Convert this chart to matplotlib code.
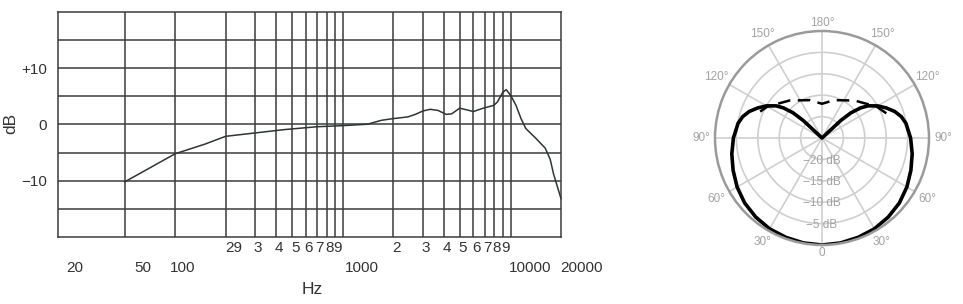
import numpy as np
import matplotlib
matplotlib.use("Agg")
import matplotlib.pyplot as plt
from matplotlib.transforms import blended_transform_factory

plt.rcParams['font.family'] = ['Liberation Sans', 'DejaVu Sans']

# ---------------- data ----------------
freq_hz = [50, 100, 150, 200, 300, 450, 700, 1000, 1400, 1700, 2000, 2440, 2680, 3000,
           3320, 3690, 4140, 4460, 4970, 5490, 6000, 6870, 7950, 8350, 8980, 9430,
           10060, 10780, 11550, 12320, 14100, 16100, 17250, 18050, 19600, 20000]
resp_db = [-10.2, -5.2, -3.5, -2.1, -1.5, -0.9, -0.4, -0.2, 0.05, 0.75, 1.05, 1.35, 1.75, 2.4,
           2.7, 2.5, 1.8, 1.9, 2.9, 2.6, 2.3, 2.9, 3.4, 4.0, 5.7, 6.2,
           5.1, 3.4, 1.05, -0.7, -2.4, -4.2, -6.2, -8.8, -12.3, -13.2]

y_tick_vals = [10, 0, -10]
y_tick_labels = ['+10', '0', '\u221210']
x_grid_freqs = [50, 100, 200, 300, 400, 500, 600, 700, 800, 900, 1000,
                2000, 3000, 4000, 5000, 6000, 7000, 8000, 9000, 10000]
minor_row_freqs = [200, 300, 400, 500, 600, 700, 800, 900,
                   2000, 3000, 4000, 5000, 6000, 7000, 8000, 9000]
minor_row_labels = ['29', '3', '4', '5', '6', '7', '8', '9',
                    '2', '3', '4', '5', '6', '7', '8', '9']
major_row_freqs = [20, 50, 100, 1000, 10000, 20000]
major_row_labels = ['20', '50', '100', '1000', '10000', '20000']

# polar pattern (angle in degrees from front, one half; the pattern is symmetric)
solid_angles = [0, 10, 20, 30, 40, 50, 60, 70, 80, 90, 100, 105, 110, 115, 120,
                125, 128, 131, 133, 135]
solid_db = [0, -0.1, -0.3, -0.5, -0.9, -1.4, -2.1, -2.9, -3.6, -4.3, -5.1, -5.8,
            -6.9, -8.4, -10.0, -11.9, -13.6, -16.0, -19.0, -25.0]
dashed_angles = [111, 120, 139, 162, 180]
dashed_db = [-8.9, -10.3, -13.4, -15.7, -17.0]
ring_db = [-20, -15, -10, -5]
ring_labels = ['\u221220 dB', '\u221215 dB', '\u221210 dB', '\u22125 dB']
spoke_deg = [0, 30, 60, 90, 120, 150, 180, 210, 240, 270, 300, 330]
spoke_labels = ['0', '30\u00b0', '60\u00b0', '90\u00b0', '120\u00b0', '150\u00b0', '180\u00b0',
                '150\u00b0', '120\u00b0', '90\u00b0', '60\u00b0', '30\u00b0']

# ---------------- figure ----------------
W, H = 963, 304
fig = plt.figure(figsize=(W / 100, H / 100), dpi=100)

grid_c = '#3c3c3c'
text_c = '#333333'

ax = fig.add_axes([58 / W, 1 - 237 / H, 503 / W, 225 / H])
ax.set_xscale('log')
ax.set_xlim(20, 20000)
ax.set_ylim(-20, 20)
ax.plot(freq_hz, resp_db, color='#2e3532', lw=1.1, clip_on=False)
for f in x_grid_freqs:
    ax.axvline(f, color=grid_c, lw=1.1, zorder=0)
for v in np.arange(-15, 20, 5):
    ax.axhline(v, color=grid_c, lw=1.1, zorder=0)
for s in ax.spines.values():
    s.set_color(grid_c)
    s.set_linewidth(1.1)
ax.set_xticks([])
ax.set_xticks([], minor=True)
ax.set_yticks(y_tick_vals)
ax.set_yticklabels(y_tick_labels)
ax.tick_params(axis='y', length=0, pad=8, labelsize=11, labelcolor=text_c)

tr = blended_transform_factory(ax.transData, ax.transAxes)
for f, lab in zip(minor_row_freqs, minor_row_labels):
    dx = 6 if lab == '29' else 2
    ax.annotate(lab, (f, -0.047), xycoords=tr, xytext=(dx, 0), textcoords='offset points',
                ha='center', va='center', fontsize=11, color=text_c)
major_dx = [12, 13, 5, 14, 14, 15]
for f, lab, dx in zip(major_row_freqs, major_row_labels, major_dx):
    ax.annotate(lab, (f, -0.14), xycoords=tr, xytext=(dx, 0), textcoords='offset points',
                ha='center', va='center', fontsize=11, color=text_c)

fig.text(312 / W, 1 - 290 / H, 'Hz', ha='center', va='center', fontsize=12.5, color=text_c)
fig.text(11 / W, 1 - 123 / H, 'dB', ha='center', va='center', rotation=90,
         fontsize=12.5, color=text_c)

# ---------------- polar ----------------
R = 107
pax = fig.add_axes([(822 - R) / W, 1 - (138 + R) / H, 2 * R / W, 2 * R / H],
                   projection='polar')
pax.set_theta_zero_location('S')
pax.set_theta_direction(1)
pax.set_ylim(-25, 0)
pax.set_yticks(ring_db)
pax.set_yticklabels([])
pax.set_xticks(np.deg2rad(spoke_deg))
pax.set_xticklabels([])
pax.grid(True, color='#cfcfcf', lw=1.2)
pax.spines['polar'].set_color('#9a9a9a')
pax.spines['polar'].set_linewidth(1.8)
pax.tick_params(length=0)

full_a = solid_angles + [360 - a for a in solid_angles[::-1]]
full_d = solid_db + solid_db[::-1]
pax.plot(np.deg2rad(full_a), full_d, color='black', lw=2.6, solid_joinstyle='round')

dash_a = dashed_angles + [360 - a for a in dashed_angles[::-1][1:]]
dash_d = dashed_db + dashed_db[::-1][1:]
pax.plot(np.deg2rad(dash_a), dash_d, color='black', lw=1.8, dashes=(5, 3))

lab_c = '#a3a3a3'
for v, lab in zip(ring_db, ring_labels):
    pax.text(0, v + 0.3, lab, ha='center', va='center', fontsize=8.5, color=lab_c)
for d, lab in zip(spoke_deg, spoke_labels):
    t = np.deg2rad(d)
    r_px = 110 + abs(np.sin(t)) * 11 + abs(np.cos(t)) * 5
    r_dat = r_px / R * 25 - 25
    pax.text(t, r_dat, lab, ha='center', va='center', fontsize=8.5,
             color=lab_c, clip_on=False)

fig.savefig('out.png', dpi=100)
